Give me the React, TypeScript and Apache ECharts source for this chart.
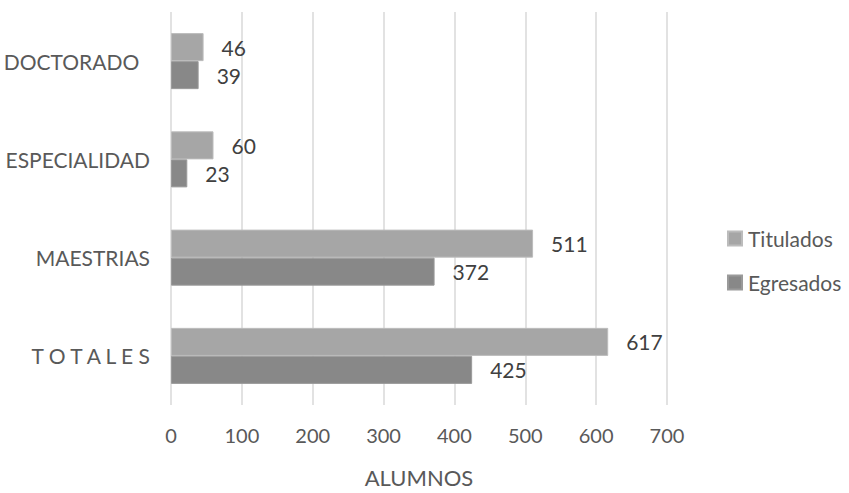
import React, { useEffect, useRef } from "react";
import * as echarts from "echarts";

const categories = ["DOCTORADO  ", "ESPECIALIDAD", "MAESTRIAS", "T O T A L E S"];
const tituladosValues = [46, 60, 511, 617];
const egresadosValues = [39, 23, 372, 425];
const seriesNames = ["Titulados", "Egresados"];
const xAxisTitle = "ALUMNOS";

const FONT = "Lato, 'Open Sans', sans-serif";

export default function App() {
  const ref = useRef<HTMLDivElement>(null);
  useEffect(() => {
    if (!ref.current) return;
    const chart = echarts.init(ref.current, null, { renderer: "svg" });
    chart.setOption({
      animation: false,
      backgroundColor: "#ffffff",
      textStyle: { fontFamily: FONT },
      grid: { left: 171, right: 182, top: 12, bottom: 81, containLabel: false },
      legend: {
        orient: "vertical",
        left: 722,
        top: 223,
        itemWidth: 14,
        itemHeight: 14,
        itemGap: 23,
        icon: "rect",
        data: seriesNames,
        textStyle: { fontSize: 21, color: "#595959", fontFamily: FONT, padding: [0, 0, 0, 1] },
      },
      xAxis: {
        type: "value",
        min: 0,
        max: 700,
        interval: 100,
        name: xAxisTitle,
        nameLocation: "middle",
        nameGap: 61,
        nameTextStyle: { fontSize: 22, color: "#595959", fontFamily: FONT },
        axisLine: { show: false },
        axisTick: { show: false },
        axisLabel: { fontSize: 20, color: "#595959", margin: 20, fontFamily: FONT },
        splitLine: { show: true, lineStyle: { color: "#d9d9d9", width: 1.5 } },
      },
      yAxis: {
        type: "category",
        inverse: true,
        data: categories,
        axisLine: { show: false },
        axisTick: { show: false },
        axisLabel: { fontSize: 21, color: "#595959", margin: 21, fontFamily: FONT },
      },
      series: [
        {
          name: seriesNames[0],
          type: "bar",
          data: tituladosValues,
          barGap: "0%",
          barCategoryGap: "43%",
          itemStyle: { color: "#a6a6a6", borderColor: "#bcbcbc", borderWidth: 1 },
          label: { show: true, position: "right", distance: 18, fontSize: 21, color: "#404040", fontFamily: FONT },
        },
        {
          name: seriesNames[1],
          type: "bar",
          data: egresadosValues,
          barGap: "0%",
          barCategoryGap: "43%",
          itemStyle: { color: "#888888", borderColor: "#9a9a9a", borderWidth: 1 },
          label: { show: true, position: "right", distance: 18, fontSize: 21, color: "#404040", fontFamily: FONT },
        },
      ],
    });
    return () => chart.dispose();
  }, []);
  return <div ref={ref} style={{ width: 849, height: 493, position: "absolute", left: 0, top: 0 }} />;
}
